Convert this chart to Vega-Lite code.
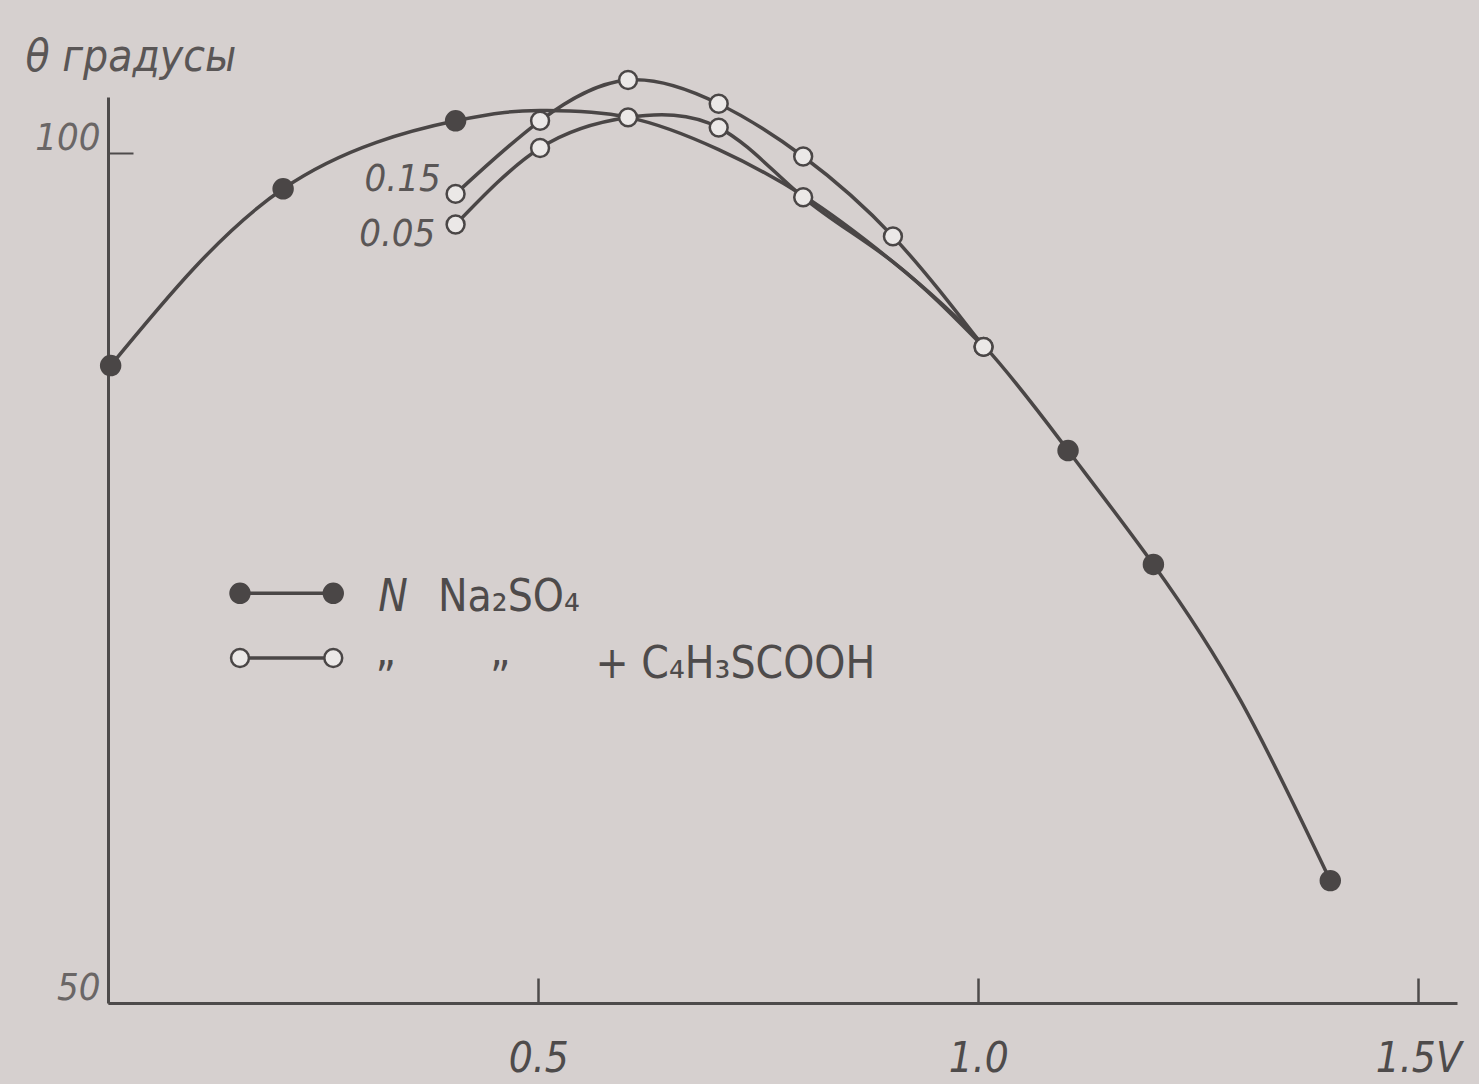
{
  "$schema": "https://vega.github.io/schema/vega-lite/v6.json",
  "width": 1349,
  "height": 906,
  "autosize": {"type": "none"},
  "padding": {"left": 108, "top": 97, "right": 22, "bottom": 81},
  "background": "#d6d0cf",
  "config": {"view": {"stroke": null}},
  "datasets": {
    "curves": [
      {"s": "Na2SO4", "V": 0.014, "theta": 87.5, "m": 1},
      {"s": "Na2SO4", "V": 0.21, "theta": 97.9, "m": 1},
      {"s": "Na2SO4", "V": 0.406, "theta": 101.9, "m": 1},
      {"s": "Na2SO4", "V": 0.502, "theta": 102.5, "m": 0},
      {"s": "Na2SO4", "V": 0.602, "theta": 102.1, "m": 0},
      {"s": "Na2SO4", "V": 0.705, "theta": 100.2, "m": 0},
      {"s": "Na2SO4", "V": 0.801, "theta": 97.5, "m": 0},
      {"s": "Na2SO4", "V": 0.903, "theta": 93.6, "m": 0},
      {"s": "Na2SO4", "V": 1.006, "theta": 88.7, "m": 0},
      {"s": "Na2SO4", "V": 1.102, "theta": 82.5, "m": 1},
      {"s": "Na2SO4", "V": 1.199, "theta": 75.8, "m": 1},
      {"s": "Na2SO4", "V": 1.298, "theta": 67.8, "m": 0},
      {"s": "Na2SO4", "V": 1.4, "theta": 57.2, "m": 1},
      {"s": "0.15", "V": 0.406, "theta": 97.6, "m": 1},
      {"s": "0.15", "V": 0.502, "theta": 101.9, "m": 1},
      {"s": "0.15", "V": 0.602, "theta": 104.3, "m": 1},
      {"s": "0.15", "V": 0.705, "theta": 102.9, "m": 1},
      {"s": "0.15", "V": 0.801, "theta": 99.8, "m": 1},
      {"s": "0.15", "V": 0.903, "theta": 95.1, "m": 1},
      {"s": "0.15", "V": 1.006, "theta": 88.6, "m": 1},
      {"s": "0.05", "V": 0.406, "theta": 95.8, "m": 1},
      {"s": "0.05", "V": 0.502, "theta": 100.3, "m": 1},
      {"s": "0.05", "V": 0.602, "theta": 102.1, "m": 1},
      {"s": "0.05", "V": 0.705, "theta": 101.5, "m": 1},
      {"s": "0.05", "V": 0.801, "theta": 97.4, "m": 1},
      {"s": "0.05", "V": 0.903, "theta": 93.6, "m": 0},
      {"s": "0.05", "V": 1.006, "theta": 88.6, "m": 1}
    ],
    "curveLabels": [
      {"label": "0.15", "V": 0.389, "theta": 98.4},
      {"label": "0.05", "V": 0.383, "theta": 95.2}
    ],
    "legendLines": [
      {"row": 1, "V": 0.161, "theta": 74.1},
      {"row": 1, "V": 0.267, "theta": 74.1},
      {"row": 2, "V": 0.161, "theta": 70.3},
      {"row": 2, "V": 0.267, "theta": 70.3}
    ],
    "legendText": [
      {"t": "N", "V": 0.318, "theta": 73.8, "it": 1},
      {"t": "Na₂SO₄", "V": 0.386, "theta": 73.8, "it": 0},
      {"t": "”", "V": 0.315, "theta": 69.0, "it": 0},
      {"t": "”", "V": 0.445, "theta": 69.0, "it": 0},
      {"t": "+ C₄H₃SCOOH", "V": 0.565, "theta": 69.9, "it": 0}
    ]
  },
  "encoding": {
    "x": {
      "field": "V", "type": "quantitative",
      "scale": {"domain": [0.011, 1.544], "nice": false, "zero": false},
      "axis": {
        "title": null, "values": [0.5, 1, 1.5], "grid": false,
        "domainColor": "#4e4b4b", "domainWidth": 3,
        "tickColor": "#4e4b4b", "tickWidth": 2.5, "tickSize": -25,
        "labelExpr": "datum.value == 1.5 ? '1.5V' : format(datum.value, '.1f')",
        "labelFont": "DejaVu Sans Condensed, Liberation Sans, sans-serif", "labelFontStyle": "italic",
        "labelFontSize": 42, "labelColor": "#4e4b4b", "labelPadding": 60,
        "labelBaseline": "top"
      }
    },
    "y": {
      "field": "theta", "type": "quantitative",
      "scale": {"domain": [50, 103.3], "nice": false, "zero": false},
      "axis": {
        "values": [50, 100], "grid": false,
        "domainColor": "#4e4b4b", "domainWidth": 3,
        "tickColor": "#4e4b4b", "tickWidth": 2, "tickSize": -25,
        "labelFont": "DejaVu Sans Condensed, Liberation Sans, sans-serif", "labelFontStyle": "italic",
        "labelFontSize": 38, "labelColor": "#6a6666", "labelPadding": 33,
        "labelOffset": -15,
        "title": "θ градусы", "titleAngle": 0, "titleX": -83, "titleY": -40,
        "titleAlign": "left", "titleBaseline": "middle",
        "titleFont": "DejaVu Sans Condensed, Liberation Sans, sans-serif", "titleFontStyle": "italic",
        "titleFontWeight": "normal", "titleFontSize": 44, "titleColor": "#5a5656"
      }
    }
  },
  "layer": [
    {
      "data": {"name": "curves"},
      "mark": {"type": "line", "interpolate": "natural", "color": "#4a4646", "strokeWidth": 3.5, "clip": false},
      "encoding": {"detail": {"field": "s"}}
    },
    {
      "data": {"name": "curves"},
      "transform": [{"filter": "datum.s == 'Na2SO4' && datum.m == 1"}],
      "mark": {"type": "point", "shape": "circle", "filled": true, "color": "#4a4646", "size": 460, "opacity": 1}
    },
    {
      "data": {"name": "curves"},
      "transform": [{"filter": "datum.s != 'Na2SO4' && datum.m == 1"}],
      "mark": {"type": "point", "shape": "circle", "filled": false, "fill": "#ebe8e7", "fillOpacity": 1, "stroke": "#4a4646", "strokeWidth": 2.5, "size": 320, "opacity": 1, "clip": false}
    },
    {
      "data": {"name": "curveLabels"},
      "mark": {"type": "text", "align": "right", "baseline": "middle", "font": "DejaVu Sans Condensed, Liberation Sans, sans-serif", "fontStyle": "italic", "fontSize": 38, "color": "#5a5656"},
      "encoding": {"text": {"field": "label"}}
    },
    {
      "data": {"name": "legendLines"},
      "mark": {"type": "line", "color": "#4a4646", "strokeWidth": 3.5},
      "encoding": {"detail": {"field": "row"}}
    },
    {
      "data": {"name": "legendLines"},
      "transform": [{"filter": "datum.row == 1"}],
      "mark": {"type": "point", "shape": "circle", "filled": true, "color": "#4a4646", "size": 460, "opacity": 1}
    },
    {
      "data": {"name": "legendLines"},
      "transform": [{"filter": "datum.row == 2"}],
      "mark": {"type": "point", "shape": "circle", "filled": false, "fill": "#ebe8e7", "fillOpacity": 1, "stroke": "#4a4646", "strokeWidth": 2.5, "size": 320, "opacity": 1}
    },
    {
      "data": {"name": "legendText"},
      "transform": [{"filter": "datum.it == 1"}],
      "mark": {"type": "text", "align": "left", "baseline": "middle", "font": "DejaVu Sans Condensed, Liberation Sans, sans-serif", "fontStyle": "italic", "fontSize": 44, "color": "#4e4b4b"},
      "encoding": {"text": {"field": "t"}}
    },
    {
      "data": {"name": "legendText"},
      "transform": [{"filter": "datum.it == 0"}],
      "mark": {"type": "text", "align": "left", "baseline": "middle", "font": "DejaVu Sans Condensed, Liberation Sans, sans-serif", "fontSize": 44, "color": "#4e4b4b"},
      "encoding": {"text": {"field": "t"}}
    }
  ]
}
